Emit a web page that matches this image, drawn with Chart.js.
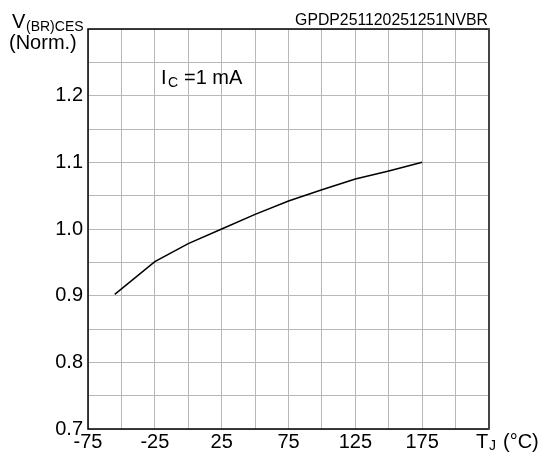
<!DOCTYPE html>
<html>
<head>
<meta charset="utf-8">
<script src="https://cdn.jsdelivr.net/npm/chart.js@4"></script>
<style>
  html, body { margin: 0; padding: 0; background: #fff; }
  #wrap { width: 544px; height: 453px; }
</style>
</head>
<body>
<div id="wrap"><canvas id="c" width="544" height="453"></canvas></div>
<script>
// junction temperature (°C) and normalized breakdown voltage
const tempC = [-55, -25, 0, 25, 50, 75, 100, 125, 150, 175];
const vbrNorm = [0.902, 0.951, 0.978, 1.0, 1.022, 1.042, 1.059, 1.075, 1.087, 1.1];

// labelled ticks
const xTickLabels = [-75, -25, 25, 75, 125, 175];
const yTickLabels = [0.7, 0.8, 0.9, 1.0, 1.1, 1.2];

const FONT = "'Liberation Sans', Arial, sans-serif";

// frame + annotation texts
const annotations = {
  id: 'annotations',
  afterDraw(chart) {
    const ctx = chart.ctx;
    const a = chart.chartArea;
    ctx.save();

    // frame
    ctx.lineWidth = 1.5;
    ctx.strokeStyle = '#000';
    ctx.beginPath();
    ctx.moveTo(a.right, a.top);
    ctx.lineTo(a.left, a.top);
    ctx.lineTo(a.left, a.bottom);
    ctx.lineTo(a.right, a.bottom);
    ctx.stroke();
    ctx.lineWidth = 2;
    ctx.strokeStyle = '#444';
    ctx.beginPath();
    ctx.moveTo(a.right, a.top - 0.75);
    ctx.lineTo(a.right, a.bottom + 0.75);
    ctx.stroke();

    ctx.fillStyle = '#000';
    ctx.textBaseline = 'alphabetic';
    ctx.textAlign = 'left';

    // y axis title
    ctx.font = '20px ' + FONT;
    ctx.fillText('V', 12, 28);
    ctx.font = '14px ' + FONT;
    ctx.fillText('(BR)CES', 26, 31);
    ctx.font = '20px ' + FONT;
    ctx.fillText('(Norm.)', 9, 49);

    // test condition
    ctx.font = '20px ' + FONT;
    ctx.fillText('I', 161, 84);
    ctx.font = '14px ' + FONT;
    ctx.fillText('C', 168, 87);
    ctx.font = '20px ' + FONT;
    ctx.fillText('=1 mA', 184, 84);

    // drawing code
    ctx.font = '15.8px ' + FONT;
    ctx.textAlign = 'right';
    ctx.fillText('GPDP251120251251NVBR', 488, 25);

    // x axis title
    ctx.textAlign = 'left';
    ctx.font = '20px ' + FONT;
    ctx.fillText('T', 476, 448);
    ctx.font = '14px ' + FONT;
    ctx.fillText('J', 489, 450);
    ctx.font = '20px ' + FONT;
    ctx.fillText('(°C)', 503, 448);

    ctx.restore();
  }
};

new Chart(document.getElementById('c'), {
  type: 'scatter',
  data: {
    datasets: [{
      data: tempC.map((t, i) => ({ x: t, y: vbrNorm[i] })),
      showLine: true,
      borderColor: '#000',
      borderWidth: 1.5,
      pointRadius: 0,
      tension: 0
    }]
  },
  options: {
    responsive: false,
    animation: false,
    layout: { padding: { top: 29, right: 55, left: 0, bottom: 0 } },
    plugins: { legend: { display: false }, tooltip: { enabled: false } },
    scales: {
      x: {
        type: 'linear',
        min: -75,
        max: 225,
        afterBuildTicks(scale) {
          const t = [];
          for (let v = -75; v <= 225; v += 25) t.push({ value: v });
          scale.ticks = t;
        },
        afterFit(scale) { scale.height = 24; },
        grid: { color: '#b8b8b8', lineWidth: 1, drawTicks: false },
        border: { display: false },
        ticks: {
          autoSkip: false,
          maxRotation: 0,
          padding: 1,
          color: '#000',
          font: { family: FONT, size: 20 },
          callback: v => xTickLabels.includes(v) ? String(v) : ''
        }
      },
      y: {
        min: 0.7,
        max: 1.3,
        afterBuildTicks(scale) {
          const t = [];
          for (let i = 0; i <= 12; i++) t.push({ value: 0.7 + i * 0.05 });
          scale.ticks = t;
        },
        afterFit(scale) { scale.width = 88; },
        grid: { color: '#b8b8b8', lineWidth: 1, drawTicks: false },
        border: { display: false },
        ticks: {
          autoSkip: false,
          padding: 5,
          color: '#000',
          font: { family: FONT, size: 20 },
          callback: v => {
            const hit = yTickLabels.find(y => Math.abs(y - v) < 1e-6);
            return hit !== undefined ? hit.toFixed(1) : '';
          }
        }
      }
    }
  },
  plugins: [annotations]
});
</script>
</body>
</html>
